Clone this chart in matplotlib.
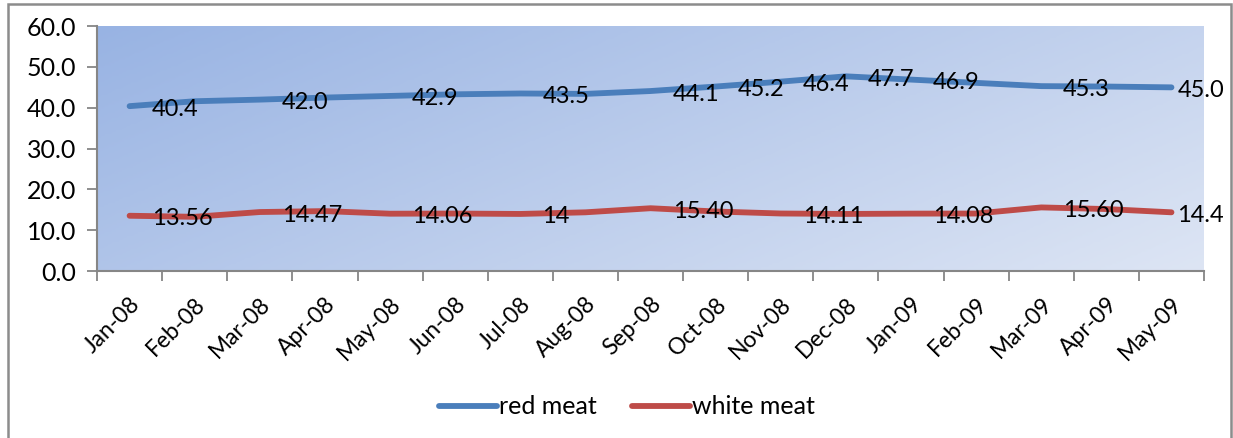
import numpy as np
import matplotlib
matplotlib.use("Agg")
import matplotlib.pyplot as plt
from matplotlib.colors import LinearSegmentedColormap
from matplotlib.patches import Rectangle

plt.rcParams['font.family'] = ['Lato', 'DejaVu Sans']

months = ['Jan-08', 'Feb-08', 'Mar-08', 'Apr-08', 'May-08', 'Jun-08', 'Jul-08',
          'Aug-08', 'Sep-08', 'Oct-08', 'Nov-08', 'Dec-08', 'Jan-09', 'Feb-09',
          'Mar-09', 'Apr-09', 'May-09']
red_meat = [40.4, 41.6, 42.0, 42.5, 42.9, 43.3, 43.5, 43.4, 44.1, 45.2, 46.4,
            47.7, 46.9, 46.1, 45.3, 45.2, 45.0]
white_meat = [13.56, 13.3, 14.47, 14.7, 14.06, 14.1, 14.0, 14.4, 15.40, 14.6,
              14.11, 14.0, 14.08, 14.1, 15.60, 15.2, 14.4]
red_labels = ['40.4', None, '42.0', None, '42.9', None, '43.5', None, '44.1',
              '45.2', '46.4', '47.7', '46.9', None, '45.3', None, '45.0']
white_labels = ['13.56', None, '14.47', None, '14.06', None, '14', None, '15.40',
                None, '14.11', None, '14.08', None, '15.60', None, '14.4']

RED_COL = '#4A7EBB'
WHITE_COL = '#BE4B48'
AXIS_COL = '#868686'

fig = plt.figure(figsize=(12.33, 4.38), dpi=100)
ax = fig.add_axes([0.0787, 0.381, 0.8978, 0.5594])

# diagonal gradient fill for the plot area
gx, gy = np.meshgrid(np.linspace(0, 1, 300), np.linspace(0, 1, 120))
grad = (gx * 0.65 + gy * 0.35)
cmap = LinearSegmentedColormap.from_list('bg', ['#98B3E3', '#DDE5F4'])
ax.imshow(grad, cmap=cmap, extent=[0, 1, 0, 1], transform=ax.transAxes,
          aspect='auto', zorder=0, origin='upper')

x = np.arange(len(months))
ax.plot(x, red_meat, color=RED_COL, lw=4.2, solid_capstyle='round',
        label='red meat', zorder=3)
ax.plot(x, white_meat, color=WHITE_COL, lw=4.2, solid_capstyle='round',
        label='white meat', zorder=3)

for series, labels in [(red_meat, red_labels), (white_meat, white_labels)]:
    for i, (v, lab) in enumerate(zip(series, labels)):
        if lab is None:
            continue
        dx = 6 if i == len(series) - 1 else 22
        ax.annotate(lab, (i, v), xytext=(dx, -3), textcoords='offset pixels',
                    ha='left', va='center', fontsize=17, color='black', zorder=4)

ax.set_xlim(-0.5, len(months) - 0.5)
ax.set_ylim(0, 60)
ax.set_yticks(np.arange(0, 61, 10))
ax.set_yticklabels([f'{v:.1f}' for v in range(0, 61, 10)], fontsize=18)

# ticks on category boundaries, labels on category centres
ax.set_xticks(np.arange(-0.5, len(months), 1))
ax.set_xticklabels([])
ax.set_xticks(x, minor=True)
ax.set_xticklabels(months, minor=True, rotation=45, ha='right',
                   rotation_mode='anchor', fontsize=16.5)
ax.tick_params(axis='x', which='minor', length=0, pad=16)
ax.tick_params(axis='both', which='major', length=7, width=1.3, color=AXIS_COL)
ax.tick_params(axis='y', pad=8)

for side in ['top', 'right']:
    ax.spines[side].set_visible(False)
for side in ['left', 'bottom']:
    ax.spines[side].set_color(AXIS_COL)
    ax.spines[side].set_linewidth(1.5)

ax.legend(loc='upper center', bbox_to_anchor=(0.479, -0.415), ncol=2,
          frameon=False, fontsize=18, handlelength=2.3, handletextpad=0.1,
          columnspacing=1.4)

# chart border
fig.patches.append(Rectangle((8 / 1233, -0.05), (1231 - 8) / 1233, 1.05 - 4 / 438,
                             transform=fig.transFigure, fill=False,
                             edgecolor='#8C8C8C', lw=1.8))

fig.savefig('out.png', dpi=100)
